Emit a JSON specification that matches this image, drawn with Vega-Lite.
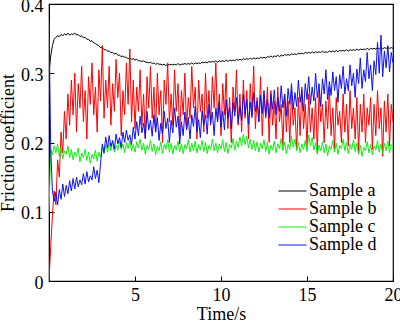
{
"$schema":"https://vega.github.io/schema/vega-lite/v6.json",
"width":344,"height":277,
"autosize":"none",
"padding":{"left":49,"top":4,"right":7,"bottom":40},
"background":"white",
"config":{
"font":"Liberation Serif",
"view":{"stroke":"#000","strokeWidth":1.2},
"axis":{"labelFont":"Liberation Serif","titleFont":"Liberation Serif","labelFontSize":18,"titleFontSize":18,"titleFontWeight":"normal","labelColor":"#000","titleColor":"#000","domainColor":"#000","tickColor":"#000","tickSize":-5,"grid":false},
"legend":{"labelFont":"Liberation Serif","labelFontSize":18,"labelColor":"#000"}
},
"data":{"values":[
{"t":0.0,"a":0.300,"b":0.000,"c":0.100,"d":0.375},
{"t":0.1,"a":0.325,"b":0.050,"c":0.190,"d":0.190},
{"t":0.2,"a":0.340,"b":0.095,"c":0.182,"d":0.130},
{"t":0.3,"a":0.349,"b":0.130,"c":0.195,"d":0.115},
{"t":0.4,"a":0.352,"b":0.110,"c":0.185,"d":0.128},
{"t":0.5,"a":0.354,"b":0.175,"c":0.198,"d":0.110},
{"t":0.6,"a":0.353,"b":0.150,"c":0.180,"d":0.132},
{"t":0.7,"a":0.356,"b":0.215,"c":0.192,"d":0.118},
{"t":0.8,"a":0.354,"b":0.185,"c":0.176,"d":0.140},
{"t":0.9,"a":0.357,"b":0.245,"c":0.188,"d":0.122},
{"t":1.0,"a":0.355,"b":0.205,"c":0.183,"d":0.138},
{"t":1.1,"a":0.358,"b":0.270,"c":0.195,"d":0.126},
{"t":1.2,"a":0.355,"b":0.225,"c":0.178,"d":0.145},
{"t":1.3,"a":0.357,"b":0.290,"c":0.190,"d":0.130},
{"t":1.4,"a":0.356,"b":0.240,"c":0.175,"d":0.148},
{"t":1.5,"a":0.358,"b":0.300,"c":0.186,"d":0.133},
{"t":1.6,"a":0.355,"b":0.215,"c":0.180,"d":0.150},
{"t":1.7,"a":0.356,"b":0.285,"c":0.192,"d":0.136},
{"t":1.8,"a":0.353,"b":0.250,"c":0.172,"d":0.146},
{"t":1.9,"a":0.354,"b":0.310,"c":0.185,"d":0.139},
{"t":2.0,"a":0.351,"b":0.230,"c":0.178,"d":0.155},
{"t":2.1,"a":0.352,"b":0.275,"c":0.190,"d":0.140},
{"t":2.2,"a":0.349,"b":0.205,"c":0.174,"d":0.158},
{"t":2.3,"a":0.349,"b":0.295,"c":0.186,"d":0.143},
{"t":2.4,"a":0.346,"b":0.255,"c":0.170,"d":0.152},
{"t":2.5,"a":0.347,"b":0.315,"c":0.183,"d":0.146},
{"t":2.6,"a":0.344,"b":0.240,"c":0.176,"d":0.165},
{"t":2.7,"a":0.343,"b":0.280,"c":0.189,"d":0.148},
{"t":2.8,"a":0.341,"b":0.215,"c":0.173,"d":0.160},
{"t":2.9,"a":0.340,"b":0.305,"c":0.186,"d":0.142},
{"t":3.0,"a":0.337,"b":0.260,"c":0.179,"d":0.170},
{"t":3.1,"a":0.337,"b":0.340,"c":0.193,"d":0.198},
{"t":3.2,"a":0.334,"b":0.235,"c":0.184,"d":0.185},
{"t":3.3,"a":0.334,"b":0.290,"c":0.197,"d":0.208},
{"t":3.4,"a":0.332,"b":0.250,"c":0.186,"d":0.192},
{"t":3.5,"a":0.332,"b":0.310,"c":0.199,"d":0.210},
{"t":3.6,"a":0.330,"b":0.225,"c":0.188,"d":0.194},
{"t":3.7,"a":0.330,"b":0.285,"c":0.201,"d":0.203},
{"t":3.8,"a":0.328,"b":0.245,"c":0.186,"d":0.190},
{"t":3.9,"a":0.329,"b":0.320,"c":0.196,"d":0.212},
{"t":4.0,"a":0.326,"b":0.265,"c":0.189,"d":0.198},
{"t":4.1,"a":0.326,"b":0.300,"c":0.202,"d":0.207},
{"t":4.2,"a":0.324,"b":0.210,"c":0.190,"d":0.193},
{"t":4.3,"a":0.325,"b":0.275,"c":0.198,"d":0.215},
{"t":4.4,"a":0.323,"b":0.240,"c":0.185,"d":0.200},
{"t":4.5,"a":0.323,"b":0.315,"c":0.200,"d":0.218},
{"t":4.6,"a":0.321,"b":0.255,"c":0.191,"d":0.203},
{"t":4.7,"a":0.322,"b":0.335,"c":0.203,"d":0.211},
{"t":4.8,"a":0.320,"b":0.230,"c":0.188,"d":0.197},
{"t":4.9,"a":0.321,"b":0.290,"c":0.197,"d":0.222},
{"t":5.0,"a":0.319,"b":0.220,"c":0.186,"d":0.205},
{"t":5.1,"a":0.320,"b":0.280,"c":0.201,"d":0.230},
{"t":5.2,"a":0.318,"b":0.245,"c":0.192,"d":0.210},
{"t":5.3,"a":0.318,"b":0.305,"c":0.205,"d":0.238},
{"t":5.4,"a":0.317,"b":0.225,"c":0.189,"d":0.214},
{"t":5.5,"a":0.318,"b":0.270,"c":0.199,"d":0.228},
{"t":5.6,"a":0.316,"b":0.205,"c":0.183,"d":0.206},
{"t":5.7,"a":0.316,"b":0.295,"c":0.196,"d":0.245},
{"t":5.8,"a":0.315,"b":0.250,"c":0.190,"d":0.218},
{"t":5.9,"a":0.316,"b":0.310,"c":0.203,"d":0.232},
{"t":6.0,"a":0.314,"b":0.235,"c":0.187,"d":0.209},
{"t":6.1,"a":0.315,"b":0.280,"c":0.198,"d":0.240},
{"t":6.2,"a":0.313,"b":0.215,"c":0.182,"d":0.215},
{"t":6.3,"a":0.314,"b":0.300,"c":0.195,"d":0.236},
{"t":6.4,"a":0.313,"b":0.240,"c":0.188,"d":0.203},
{"t":6.5,"a":0.313,"b":0.275,"c":0.201,"d":0.228},
{"t":6.6,"a":0.312,"b":0.200,"c":0.184,"d":0.212},
{"t":6.7,"a":0.313,"b":0.290,"c":0.197,"d":0.245},
{"t":6.8,"a":0.311,"b":0.255,"c":0.190,"d":0.220},
{"t":6.9,"a":0.313,"b":0.315,"c":0.204,"d":0.235},
{"t":7.0,"a":0.312,"b":0.230,"c":0.186,"d":0.200},
{"t":7.1,"a":0.313,"b":0.270,"c":0.199,"d":0.232},
{"t":7.2,"a":0.312,"b":0.225,"c":0.183,"d":0.214},
{"t":7.3,"a":0.313,"b":0.305,"c":0.196,"d":0.250},
{"t":7.4,"a":0.312,"b":0.245,"c":0.189,"d":0.222},
{"t":7.5,"a":0.314,"b":0.285,"c":0.202,"d":0.238},
{"t":7.6,"a":0.312,"b":0.210,"c":0.187,"d":0.198},
{"t":7.7,"a":0.313,"b":0.275,"c":0.198,"d":0.230},
{"t":7.8,"a":0.313,"b":0.240,"c":0.184,"d":0.210},
{"t":7.9,"a":0.314,"b":0.300,"c":0.197,"d":0.244},
{"t":8.0,"a":0.313,"b":0.220,"c":0.191,"d":0.218},
{"t":8.1,"a":0.314,"b":0.265,"c":0.204,"d":0.236},
{"t":8.2,"a":0.313,"b":0.235,"c":0.186,"d":0.205},
{"t":8.3,"a":0.315,"b":0.310,"c":0.199,"d":0.240},
{"t":8.4,"a":0.313,"b":0.250,"c":0.188,"d":0.223},
{"t":8.5,"a":0.315,"b":0.280,"c":0.202,"d":0.252},
{"t":8.6,"a":0.314,"b":0.205,"c":0.185,"d":0.215},
{"t":8.7,"a":0.315,"b":0.290,"c":0.197,"d":0.233},
{"t":8.8,"a":0.314,"b":0.245,"c":0.189,"d":0.207},
{"t":8.9,"a":0.316,"b":0.270,"c":0.203,"d":0.246},
{"t":9.0,"a":0.315,"b":0.215,"c":0.187,"d":0.225},
{"t":9.1,"a":0.316,"b":0.300,"c":0.200,"d":0.240},
{"t":9.2,"a":0.315,"b":0.235,"c":0.184,"d":0.212},
{"t":9.3,"a":0.317,"b":0.275,"c":0.196,"d":0.255},
{"t":9.4,"a":0.316,"b":0.225,"c":0.190,"d":0.228},
{"t":9.5,"a":0.317,"b":0.295,"c":0.205,"d":0.244},
{"t":9.6,"a":0.316,"b":0.250,"c":0.188,"d":0.210},
{"t":9.7,"a":0.318,"b":0.315,"c":0.199,"d":0.250},
{"t":9.8,"a":0.316,"b":0.230,"c":0.185,"d":0.230},
{"t":9.9,"a":0.318,"b":0.270,"c":0.198,"d":0.258},
{"t":10.0,"a":0.317,"b":0.210,"c":0.191,"d":0.222},
{"t":10.1,"a":0.318,"b":0.285,"c":0.204,"d":0.245},
{"t":10.2,"a":0.317,"b":0.240,"c":0.187,"d":0.218},
{"t":10.3,"a":0.319,"b":0.300,"c":0.200,"d":0.262},
{"t":10.4,"a":0.317,"b":0.220,"c":0.184,"d":0.235},
{"t":10.5,"a":0.319,"b":0.265,"c":0.197,"d":0.250},
{"t":10.6,"a":0.318,"b":0.200,"c":0.192,"d":0.220},
{"t":10.7,"a":0.319,"b":0.280,"c":0.206,"d":0.258},
{"t":10.8,"a":0.318,"b":0.245,"c":0.189,"d":0.238},
{"t":10.9,"a":0.320,"b":0.305,"c":0.202,"d":0.265},
{"t":11.0,"a":0.319,"b":0.225,"c":0.193,"d":0.228},
{"t":11.1,"a":0.320,"b":0.270,"c":0.208,"d":0.252},
{"t":11.2,"a":0.319,"b":0.215,"c":0.195,"d":0.232},
{"t":11.3,"a":0.321,"b":0.290,"c":0.212,"d":0.270},
{"t":11.4,"a":0.320,"b":0.235,"c":0.197,"d":0.240},
{"t":11.5,"a":0.321,"b":0.275,"c":0.209,"d":0.262},
{"t":11.6,"a":0.320,"b":0.205,"c":0.192,"d":0.226},
{"t":11.7,"a":0.322,"b":0.285,"c":0.205,"d":0.258},
{"t":11.8,"a":0.320,"b":0.240,"c":0.190,"d":0.236},
{"t":11.9,"a":0.322,"b":0.310,"c":0.203,"d":0.272},
{"t":12.0,"a":0.321,"b":0.220,"c":0.188,"d":0.245},
{"t":12.1,"a":0.322,"b":0.265,"c":0.201,"d":0.260},
{"t":12.2,"a":0.321,"b":0.230,"c":0.186,"d":0.230},
{"t":12.3,"a":0.323,"b":0.295,"c":0.199,"d":0.268},
{"t":12.4,"a":0.322,"b":0.210,"c":0.191,"d":0.242},
{"t":12.5,"a":0.323,"b":0.270,"c":0.204,"d":0.275},
{"t":12.6,"a":0.322,"b":0.235,"c":0.187,"d":0.238},
{"t":12.7,"a":0.324,"b":0.280,"c":0.200,"d":0.262},
{"t":12.8,"a":0.323,"b":0.200,"c":0.183,"d":0.235},
{"t":12.9,"a":0.325,"b":0.275,"c":0.196,"d":0.270},
{"t":13.0,"a":0.323,"b":0.225,"c":0.189,"d":0.248},
{"t":13.1,"a":0.325,"b":0.260,"c":0.202,"d":0.276},
{"t":13.2,"a":0.324,"b":0.205,"c":0.185,"d":0.240},
{"t":13.3,"a":0.326,"b":0.280,"c":0.198,"d":0.265},
{"t":13.4,"a":0.324,"b":0.230,"c":0.191,"d":0.245},
{"t":13.5,"a":0.326,"b":0.255,"c":0.206,"d":0.282},
{"t":13.6,"a":0.325,"b":0.195,"c":0.188,"d":0.250},
{"t":13.7,"a":0.327,"b":0.270,"c":0.201,"d":0.270},
{"t":13.8,"a":0.326,"b":0.215,"c":0.184,"d":0.238},
{"t":13.9,"a":0.327,"b":0.260,"c":0.197,"d":0.278},
{"t":14.0,"a":0.326,"b":0.200,"c":0.190,"d":0.255},
{"t":14.1,"a":0.328,"b":0.275,"c":0.209,"d":0.285},
{"t":14.2,"a":0.327,"b":0.225,"c":0.193,"d":0.248},
{"t":14.3,"a":0.328,"b":0.250,"c":0.205,"d":0.272},
{"t":14.4,"a":0.327,"b":0.190,"c":0.188,"d":0.252},
{"t":14.5,"a":0.329,"b":0.265,"c":0.200,"d":0.290},
{"t":14.6,"a":0.328,"b":0.210,"c":0.185,"d":0.258},
{"t":14.7,"a":0.329,"b":0.280,"c":0.198,"d":0.276},
{"t":14.8,"a":0.328,"b":0.220,"c":0.190,"d":0.245},
{"t":14.9,"a":0.330,"b":0.255,"c":0.203,"d":0.285},
{"t":15.0,"a":0.329,"b":0.195,"c":0.187,"d":0.262},
{"t":15.1,"a":0.330,"b":0.270,"c":0.211,"d":0.295},
{"t":15.2,"a":0.329,"b":0.215,"c":0.195,"d":0.255},
{"t":15.3,"a":0.331,"b":0.250,"c":0.207,"d":0.280},
{"t":15.4,"a":0.329,"b":0.205,"c":0.189,"d":0.260},
{"t":15.5,"a":0.331,"b":0.265,"c":0.200,"d":0.300},
{"t":15.6,"a":0.330,"b":0.185,"c":0.183,"d":0.265},
{"t":15.7,"a":0.331,"b":0.275,"c":0.196,"d":0.285},
{"t":15.8,"a":0.330,"b":0.230,"c":0.188,"d":0.252},
{"t":15.9,"a":0.332,"b":0.255,"c":0.201,"d":0.292},
{"t":16.0,"a":0.330,"b":0.200,"c":0.185,"d":0.270},
{"t":16.1,"a":0.331,"b":0.260,"c":0.198,"d":0.305},
{"t":16.2,"a":0.330,"b":0.220,"c":0.181,"d":0.262},
{"t":16.3,"a":0.332,"b":0.280,"c":0.195,"d":0.288},
{"t":16.4,"a":0.331,"b":0.210,"c":0.190,"d":0.268},
{"t":16.5,"a":0.332,"b":0.250,"c":0.203,"d":0.302},
{"t":16.6,"a":0.331,"b":0.190,"c":0.186,"d":0.275},
{"t":16.7,"a":0.333,"b":0.265,"c":0.199,"d":0.295},
{"t":16.8,"a":0.331,"b":0.225,"c":0.183,"d":0.258},
{"t":16.9,"a":0.333,"b":0.245,"c":0.196,"d":0.298},
{"t":17.0,"a":0.332,"b":0.200,"c":0.191,"d":0.278},
{"t":17.1,"a":0.333,"b":0.270,"c":0.205,"d":0.310},
{"t":17.2,"a":0.332,"b":0.215,"c":0.188,"d":0.270},
{"t":17.3,"a":0.334,"b":0.255,"c":0.200,"d":0.292},
{"t":17.4,"a":0.332,"b":0.195,"c":0.184,"d":0.275},
{"t":17.5,"a":0.334,"b":0.275,"c":0.197,"d":0.312},
{"t":17.6,"a":0.333,"b":0.220,"c":0.190,"d":0.282},
{"t":17.7,"a":0.334,"b":0.250,"c":0.204,"d":0.300},
{"t":17.8,"a":0.333,"b":0.205,"c":0.187,"d":0.265},
{"t":17.9,"a":0.335,"b":0.265,"c":0.199,"d":0.306},
{"t":18.0,"a":0.333,"b":0.185,"c":0.183,"d":0.285},
{"t":18.1,"a":0.335,"b":0.255,"c":0.196,"d":0.322},
{"t":18.2,"a":0.334,"b":0.215,"c":0.180,"d":0.278},
{"t":18.3,"a":0.335,"b":0.270,"c":0.193,"d":0.305},
{"t":18.4,"a":0.334,"b":0.200,"c":0.188,"d":0.288},
{"t":18.5,"a":0.336,"b":0.250,"c":0.201,"d":0.330},
{"t":18.6,"a":0.334,"b":0.225,"c":0.185,"d":0.292},
{"t":18.7,"a":0.336,"b":0.265,"c":0.197,"d":0.312},
{"t":18.8,"a":0.335,"b":0.190,"c":0.182,"d":0.275},
{"t":18.9,"a":0.336,"b":0.255,"c":0.195,"d":0.318},
{"t":19.0,"a":0.335,"b":0.210,"c":0.189,"d":0.298},
{"t":19.1,"a":0.337,"b":0.275,"c":0.203,"d":0.345},
{"t":19.2,"a":0.335,"b":0.220,"c":0.186,"d":0.300},
{"t":19.3,"a":0.337,"b":0.250,"c":0.198,"d":0.355},
{"t":19.4,"a":0.335,"b":0.180,"c":0.184,"d":0.295},
{"t":19.5,"a":0.337,"b":0.260,"c":0.199,"d":0.332},
{"t":19.6,"a":0.336,"b":0.215,"c":0.188,"d":0.308},
{"t":19.7,"a":0.337,"b":0.270,"c":0.202,"d":0.340},
{"t":19.8,"a":0.336,"b":0.195,"c":0.185,"d":0.302},
{"t":19.9,"a":0.337,"b":0.255,"c":0.197,"d":0.330},
{"t":20.0,"a":0.336,"b":0.230,"c":0.192,"d":0.315}
]},
"transform":[{"fold":["a","b","c","d"],"as":["sample","mu"]}],
"mark":{"type":"line","strokeWidth":1,"clip":true},
"encoding":{
"x":{"field":"t","type":"quantitative","title":"Time/s","scale":{"domain":[0,20],"nice":false},
"axis":{"values":[5,10,15,20],"labelPadding":10,"titlePadding":1,"labelFlush":false}},
"y":{"field":"mu","type":"quantitative","title":"Friction coefficient","scale":{"domain":[0,0.4],"nice":false},
"axis":{"values":[0,0.1,0.2,0.3,0.4],"labelExpr":"datum.value == 0 ? '0' : format(datum.value, '.1f')","labelPadding":11,"labelOffset":2,"titlePadding":3,"labelFlush":false}},
"color":{"field":"sample","type":"nominal",
"scale":{"domain":["a","b","c","d"],"range":["#000000","#ff0000","#11ee11","#1010ee"]},
"legend":{"title":null,"orient":"none","legendX":229,"legendY":178,"symbolType":"stroke","symbolSize":784,"symbolStrokeWidth":1,"labelOffset":2,"rowPadding":0,"clipHeight":18,"labelExpr":"'Sample ' + datum.label"}}
}
}
